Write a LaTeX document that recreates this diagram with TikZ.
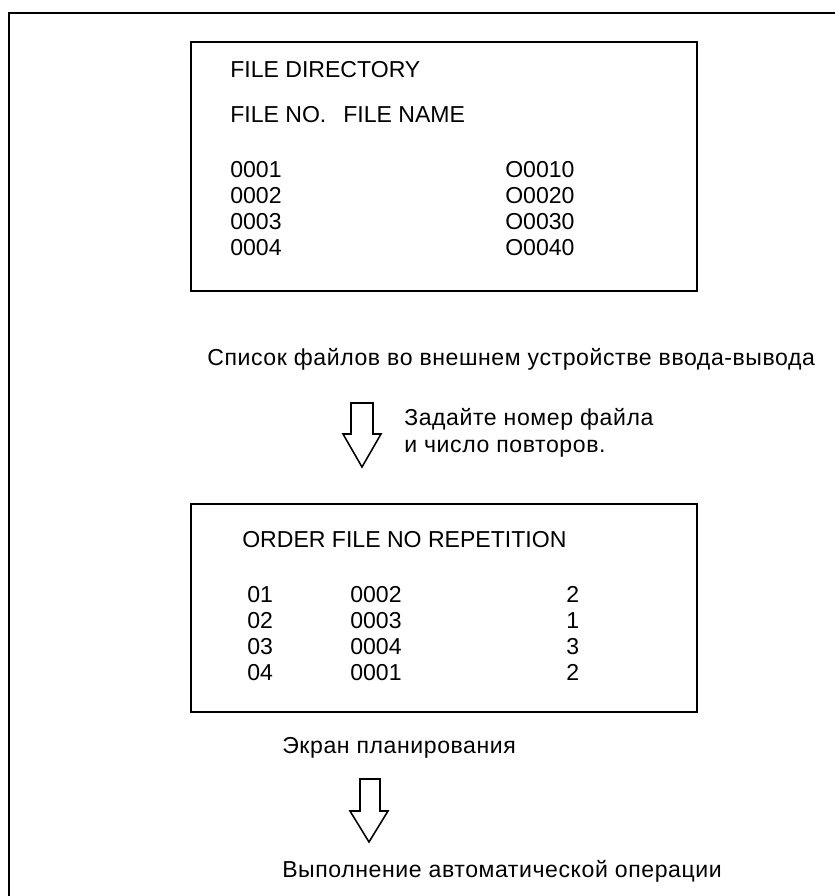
\documentclass[tikz,border=0pt]{standalone}
\usepackage{fontspec}
\setmainfont{Liberation Sans}
\newfontfamily\cyrfont[LetterSpace=2.5]{Liberation Sans}
\usetikzlibrary{positioning}

\begin{document}
\begin{tikzpicture}[x=0.025cm, y=-0.025cm,
  lbl/.style={anchor=base west, inner sep=0pt, font=\fontsize{16.4}{19}\selectfont},
  cyr/.style={lbl, font=\fontsize{16.4}{19}\selectfont\cyrfont},
  scrbox/.style={draw, line width=1.1pt},
  frame/.style={draw, line width=1.4pt},
  blockarrow/.style={draw, line width=1.1pt, line join=miter, fill=white}
]
\useasboundingbox (0,0) rectangle (835,896);
% outer frame, open at right and bottom
\draw[frame] (9,896) -- (9,13) -- (835,13);

% file directory screen
\draw[scrbox] (191,42) rectangle (697,291);
\node[lbl] (dirttl) at (230,77) {FILE DIRECTORY};
\node[lbl] (hdrno) at (230,122) {FILE NO.};
\node[lbl] (hdrname) at (343,122) {FILE NAME};
\foreach \i/\no/\nm in {0/0001/O0010,1/0002/O0020,2/0003/O0030,3/0004/O0040}{%
  \node[lbl] (no\i) at (230,177+26*\i) {\no};
  \node[lbl] (nm\i) at (505,177+26*\i) {\nm};}
\node[cyr] (dircap) at (207,365) {Список файлов во внешнем устройстве ввода-вывода};

% arrow 1
\draw[blockarrow] (351,403) -- (373,403) -- (373,434) -- (381,434) -- (362,467)
  -- (343,434) -- (351,434) -- cycle;
\node[cyr] (set1) at (404,425) {Задайте номер файла};
\node[cyr] (set2) at (404,452) {и число повторов.};

% schedule screen
\draw[scrbox] (191,504) rectangle (697,712);
\node[lbl] (schttl) at (242,547) {ORDER FILE NO REPETITION};
\foreach \i/\ord/\fno/\rep in {0/01/0002/2,1/02/0003/1,2/03/0004/3,3/04/0001/2}{%
  \node[lbl] (ord\i) at (247,602+26*\i) {\ord};
  \node[lbl] (fno\i) at (350,602+26*\i) {\fno};
  \node[lbl] (rep\i) at (566,602+26*\i) {\rep};}
\node[cyr] (schcap) at (282,753) {Экран планирования};

% arrow 2
\draw[blockarrow] (360,779) -- (380,779) -- (380,811) -- (388,811) -- (369,842)
  -- (350,811) -- (360,811) -- cycle;
\node[cyr] (runcap) at (282,877) {Выполнение автоматической операции};
\end{tikzpicture}
\end{document}
